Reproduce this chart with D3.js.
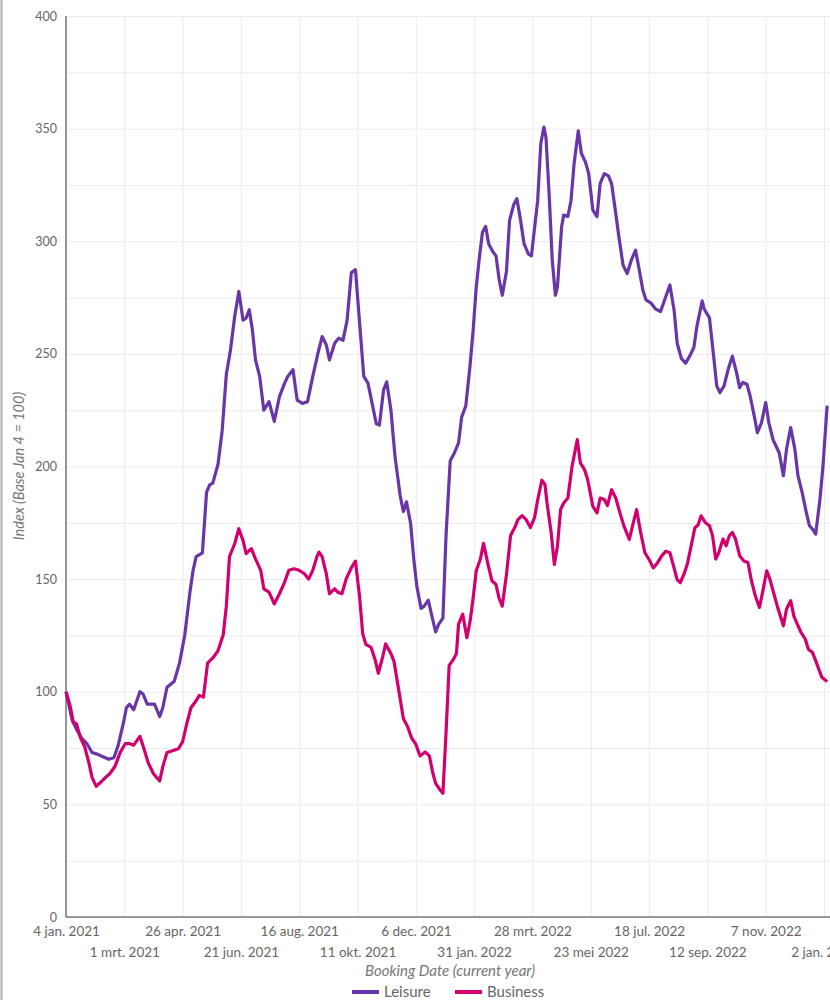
<!DOCTYPE html>
<html>
<head>
<meta charset="utf-8">
<script src="https://cdn.jsdelivr.net/npm/d3@7"></script>
<style>
  body { margin: 0; background: #fff; font-family: Lato, "Open Sans", sans-serif; }
  #plot1 { width: 830px; height: 1000px; position: relative; }
  .axis text { fill: #666; font-size: 12.5px; font-family: Lato, sans-serif; }
  .axis-x text { font-size: 13.5px; }
  .grid line { stroke: #ebebeb; stroke-width: 1; }
  .grid path { display: none; }
</style>
</head>
<body>
<div id="plot1"></div>
<script>
// day offsets from 4 jan. 2021 and index values
var leisureDay = [0,6,10,15,20,25,30,34,41,46,50,55,58,61,65,71,74,78,85,90,93,97,104,109,114,119,122,125,131,135,138,141,146,150,154,158,162,166,170,173,176,179,182,186,190,195,200,205,210,213,218,222,227,232,237,242,246,250,253,258,262,266,270,274,278,282,286,290,294,298,301,305,308,312,316,321,324,327,331,334,337,341,344,348,351,355,358,362,365,369,373,377,380,384,388,391,394,397,400,403,406,410,413,416,419,423,426,430,433,436,440,444,447,450,453,456,459,461,464,467,470,472,476,478,482,485,488,492,495,499,502,506,510,513,517,521,524,528,531,535,539,543,547,550,554,557,562,566,571,576,580,584,587,591,595,599,603,606,611,613,618,622,625,628,632,636,640,644,647,650,654,657,661,664,668,672,675,679,682,685,689,692,696,700,703,707,711,714,717,720,724,727,731];
var leisure = [100,87.3,83.4,79.4,77,73,72.3,71.5,70,70.7,76,85.8,92.9,94.5,92,100,99,94.5,94.5,89,93,102,104.7,112.7,125,144,153.8,160,161.7,188.6,191.8,192.6,201,216,241,251.8,266.6,277.7,265,265.9,269.6,260.7,247.3,240,225,228.8,220,231,237,240,243,229.5,228,228.8,240,250.3,257.7,254,247.3,254.7,257,256,265,286,287.4,263.6,240,237,228,219,218.4,234,237.6,225.3,204.4,186.9,180,184.3,174.7,158.9,146.7,137,138,140.6,134.4,126.6,130,132.7,169.4,202.6,206,210.5,221.9,227,244.6,260.3,279.5,292.7,304,306.6,298.8,295.3,293.5,283,276,286.5,309.3,316.3,318.9,311,298.8,294.4,293.5,305.8,318,343.4,350.7,346,321,291.7,276,279.8,306.4,311.6,311,318,334.5,349,339,335,330,313.8,310.9,325.6,330,329,325.6,312.3,302,289.4,285.7,291.7,296,288.7,278.4,274,272.5,270,268.8,275.4,280.6,269.5,254.7,248,245.8,249,252.8,262.4,273.5,269.8,266,249,235.8,232.8,235.8,243.2,249,241.7,235,237.3,236.5,231.4,222.5,215,219.5,228.4,219.5,212,209,206,195.9,207.7,217.3,207.7,195.9,188.5,179.6,173.7,172.2,170,185,200,227];

var businessDay = [0,4,7,10,14,18,22,25,29,33,38,42,47,52,57,61,65,71,76,79,84,87,90,93,97,103,108,112,116,120,125,128,132,136,141,146,151,154,157,162,166,170,173,178,182,187,190,195,200,205,210,214,219,224,229,233,237,241,243,246,250,253,258,261,265,269,274,278,282,285,288,293,297,300,304,307,312,315,320,324,328,332,336,340,345,349,352,355,359,362,365,368,372,375,377,381,385,388,391,394,398,401,405,409,413,416,419,423,427,431,434,438,442,446,450,453,457,460,462,466,469,472,475,478,482,486,491,494,498,501,506,510,513,517,520,524,528,532,536,541,544,548,552,556,560,564,568,572,576,580,584,587,590,594,597,601,604,607,610,614,618,621,624,627,631,634,637,640,643,647,651,655,658,662,666,669,673,676,680,683,686,689,692,696,699,703,706,710,713,717,720,723,726,731];
var business = [100,93.7,86.5,85.8,79.4,75.5,68.4,62,58,59.7,62,63.6,66.8,73,77,77,76.3,80.2,73,68.4,63.6,62,60.4,66.8,73,73.9,74.7,77.8,85.8,92.9,96,98.4,97.6,112.7,115,118.2,125.3,138,160,165.7,172.4,167.2,161.3,163.5,159,153.9,145.7,144.2,139,143.5,148.7,153.9,154.6,153.9,152.4,150,153.9,160,162,160,152.4,143.5,145.7,144.2,143.5,150,155,158,142,125.7,121,119.7,114,108.2,115.2,121.3,117,113.5,99.5,88.1,84.6,79.4,76.7,71.5,73.3,71.5,64.5,59.3,56.6,54.9,82,111.7,114.3,117,130,134.4,124,131,141.4,153.7,158.9,165.9,157.2,149.3,147.6,141.4,138,152,169.4,172.9,176.4,178.2,176.4,172.9,177.3,185.1,193.9,192,183.8,170.5,156.5,164.6,180.9,183.8,186,200,211.9,201.6,198.6,194.2,182.3,179.4,186,185.3,182.7,189.7,186,179.4,173.4,167.6,173.4,180.9,170.5,161.7,158.7,155,157.2,160.2,162.4,161.7,155,149.8,148.4,152.8,157.2,166.1,172.8,174,178.1,175.1,173.7,169.2,158.9,161.8,167.8,164.8,169.2,170.7,167.8,160.4,158.1,157.4,150,142.6,137.4,144.1,153.7,150,143.3,138.2,133.7,129.3,136.7,140.4,133.7,129.3,126.3,123.4,118.9,117.4,113.8,110,106.4,104.5];

var yTicks = [0, 50, 100, 150, 200, 250, 300, 350, 400];
var startDate = new Date(2021, 0, 4);
var tickWeeks = 8; // one x tick every 8 weeks

var colors = {leisure: '#6836a6', business: '#d2006f'};

// margins
var margin1 = {t: 16, r: 0, b: 83, l: 66};
var width1 = 830 - margin1.l - margin1.r,
    height1 = 1000 - margin1.t - margin1.b;

var svg = d3.select('#plot1')
    .append('svg')
    .attr('width', 830)
    .attr('height', 1000);

// grey frame on the left edge
svg.append('line')
    .attr('x1', 1.5).attr('x2', 1.5).attr('y1', 0).attr('y2', 1000)
    .style('stroke', '#b0b0b0').style('stroke-width', 2);

var plot1 = svg.append('g').attr('transform', 'translate(' + margin1.l + ',' + margin1.t + ')');

// dutch date format
var nl = d3.timeFormatLocale({
    dateTime: '%a %e %B %Y %X', date: '%d-%m-%Y', time: '%H:%M:%S', periods: ['AM', 'PM'],
    days: ['zondag','maandag','dinsdag','woensdag','donderdag','vrijdag','zaterdag'],
    shortDays: ['zo','ma','di','wo','do','vr','za'],
    months: ['januari','februari','maart','april','mei','juni','juli','augustus','september','oktober','november','december'],
    shortMonths: ['jan.','feb.','mrt.','apr.','mei','jun.','jul.','aug.','sep.','okt.','nov.','dec.']
});
var fmt = nl.format('%-d %b %Y');

// scales
var tickDates = d3.range(0, 14).map(function(i){ return d3.timeDay.offset(startDate, i * 7 * tickWeeks); });
var scaleX = d3.scaleTime()
    .domain([startDate, tickDates[tickDates.length - 1]])
    .range([0, 758]);
var scaleY = d3.scaleLinear().domain([0, 400]).range([height1, 0]);

// grid
plot1.append('g').attr('class', 'grid')
    .call(d3.axisLeft(scaleY).tickValues(d3.range(0, 401, 25)).tickSize(-width1).tickFormat(''));
plot1.append('g').attr('class', 'grid')
    .attr('transform', 'translate(0,' + height1 + ')')
    .call(d3.axisBottom(scaleX).tickValues(tickDates).tickSize(height1).tickFormat(''))
    .selectAll('line').attr('y2', -height1);

// axes
var axisY = plot1.append('g').attr('class', 'axis axis-y')
    .call(d3.axisLeft(scaleY).tickValues(yTicks).tickSize(0).tickPadding(9));
axisY.select('.domain').remove();

var axisX = plot1.append('g').attr('class', 'axis axis-x')
    .attr('transform', 'translate(0,' + height1 + ')')
    .call(d3.axisBottom(scaleX).tickValues(tickDates).tickSize(0).tickPadding(10).tickFormat(fmt));
axisX.select('.domain').remove();
axisX.selectAll('text').attr('y', function(d, i){ return i % 2 ? 30 : 9; });

// axis lines
plot1.append('line').attr('x1', 0).attr('x2', 0).attr('y1', 0).attr('y2', height1)
    .style('stroke', '#777').style('stroke-width', 1.5);
plot1.append('line').attr('x1', 0).attr('x2', width1).attr('y1', height1).attr('y2', height1)
    .style('stroke', '#777').style('stroke-width', 1.5);

// lines
var toPoints = function(days, vals){
    return days.map(function(d, i){ return {date: d3.timeDay.offset(startDate, d), v: vals[i]}; });
};
var line = d3.line()
    .x(function(d){ return scaleX(d.date); })
    .y(function(d){ return scaleY(d.v); });

var series = [
    {name: 'Leisure', color: colors.leisure, pts: toPoints(leisureDay, leisure)},
    {name: 'Business', color: colors.business, pts: toPoints(businessDay, business)}
];

plot1.selectAll('.series')
    .data(series)
    .enter()
    .append('path')
    .attr('class', 'series')
    .attr('d', function(d){ return line(d.pts); })
    .style('fill', 'none')
    .style('stroke', function(d){ return d.color; })
    .style('stroke-width', 3.2)
    .style('stroke-linejoin', 'round');

// titles
svg.append('text')
    .attr('x', 450).attr('y', 976)
    .attr('text-anchor', 'middle')
    .style('font-style', 'italic').style('font-size', '15px').style('fill', '#777')
    .text('Booking Date (current year)');

svg.append('text')
    .attr('transform', 'translate(24,' + 466 + ') rotate(-90)')
    .attr('text-anchor', 'middle')
    .style('font-style', 'italic').style('font-size', '14.5px').style('fill', '#777')
    .text('Index (Base Jan 4 = 100)');

// legend
var legend = svg.append('g').attr('transform', 'translate(352,992)');
var item = legend.selectAll('.leg')
    .data(series)
    .enter()
    .append('g')
    .attr('transform', function(d, i){ return 'translate(' + (i * 103) + ',0)'; });
item.append('line')
    .attr('x1', 0).attr('x2', 27).attr('y1', 0).attr('y2', 0)
    .style('stroke', function(d){ return d.color; }).style('stroke-width', 4);
item.append('text')
    .attr('x', 32).attr('y', 5)
    .style('font-size', '15px').style('fill', '#666')
    .text(function(d){ return d.name; });
</script>
</body>
</html>
